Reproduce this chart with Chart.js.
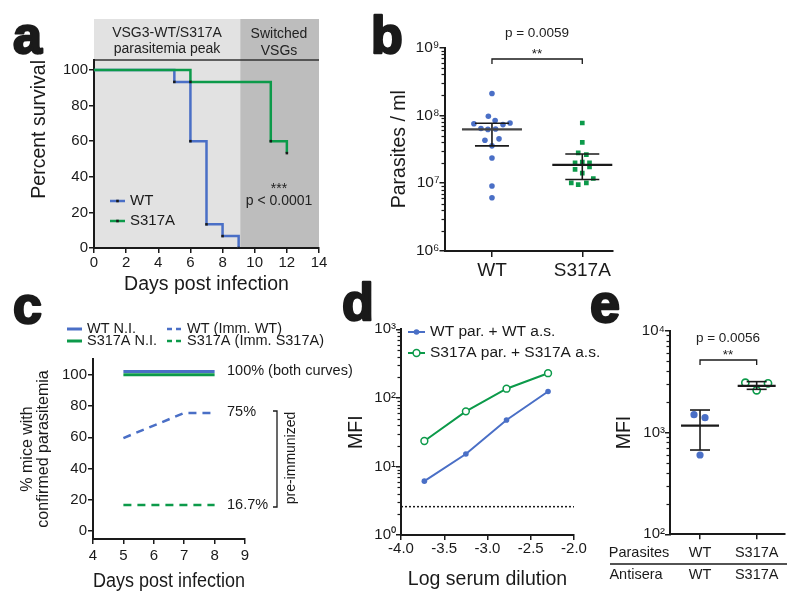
<!DOCTYPE html>
<html>
<head>
<meta charset="utf-8">
<script src="https://cdn.jsdelivr.net/npm/chart.js@4.4.1/dist/chart.umd.min.js"></script>
<style>
body { margin: 0; background: #fff; }
#fig { position: relative; width: 800px; height: 605px; overflow: hidden; }
#fig canvas { position: absolute; }
</style>
</head>
<body>
<div id="fig">
  <canvas id="pa"></canvas>
  <canvas id="pb"></canvas>
  <canvas id="pc"></canvas>
  <canvas id="pd"></canvas>
  <canvas id="pe"></canvas>
</div>
<script>
// ---- data ----
// a: survival
const dayTicksA = [0, 2, 4, 6, 8, 10, 12, 14];
const survivalTicks = [0, 20, 40, 60, 80, 100];
const wtDays = [0, 5, 6, 7, 8, 9];
const wtSurvival = [100, 93.3, 60, 13.3, 6.7, 0];
const s317aDays = [0, 6, 11, 12];
const s317aSurvival = [100, 93.3, 60, 53.3];
const switchDay = 9.1;

// b: parasitemia peak
const groupsB = ['WT', 'S317A'];
const wtParasites = [2.1e8, 9.7e7, 7.5e7, 8.4e7, 7.3e7, 7.7e7, 6.4e7, 6.2e7, 6.3e7, 4.3e7, 4.5e7, 3.55e7, 2.35e7, 9.1e6, 6.1e6];
const s317aParasites = [7.7e7, 4.0e7, 2.8e7, 2.63e7, 2.0e7, 2.05e7, 2.0e7, 1.74e7, 1.6e7, 1.41e7, 1.17e7, 1.01e7, 9.5e6, 1.01e7];
const meanB = [6.2e7, 1.86e7];
const ciLowB = [3.55e7, 1.13e7];
const ciHighB = [7.66e7, 2.69e7];
const decadesB = [6, 7, 8, 9];
// scatter spread of the dots (category units)
const wtSpreadB = [0, -0.04, -0.2, 0.035, 0.122, 0.2, -0.122, -0.045, 0.04, -0.078, 0.078, 0, 0, 0, 0];
const s317aSpreadB = [0, 0, -0.045, 0.045, -0.08, 0, 0.08, 0.08, -0.08, 0, 0.122, -0.122, -0.045, 0.045];

// c: confirmed parasitemia
const dayTicksC = [4, 5, 6, 7, 8, 9];
const percentTicks = [0, 20, 40, 60, 80, 100];
const daysC = [5, 6, 7, 8];
const wtNI = [102, 102, 102, 102];
const s317aNI = [100, 100, 100, 100];
const daysImmWT = [5, 7, 8];
const wtImm = [59.5, 75.5, 75.5];
const s317aImm = [16.7, 16.7, 16.7, 16.7];

// d: titration
const dilutionTicks = [-4.0, -3.5, -3.0, -2.5, -2.0];
const decadesD = [0, 1, 2, 3];
const logDilution = [-3.73, -3.25, -2.78, -2.30];
const mfiWT = [6.1, 15.2, 47.5, 124];
const mfiS317A = [23.5, 63.6, 136, 229];
const mfiBackground = 2.59;

// e: MFI
const parasitesE = ['WT', 'S317A'];
const antiseraE = ['WT', 'S317A'];
const decadesE = [2, 3, 4];
const mfiWTe = [1496, 1397, 601];
const mfiS317Ae = [3083, 2596, 3040];
const meanE = [1166, 2865];
const ciLowE = [673, 2655];
const ciHighE = [1663, 3160];
const wtSpreadE = [-0.106, 0.088, 0];
const s317aSpreadE = [-0.2, 0, 0.2];

// ---- style ----
const FONT = '"Liberation Sans", Arial, Helvetica, sans-serif';
const BLUE = '#4a6fc6';
const GREEN = '#0c9a4a';
const INK = '#1a1a1a';
const SUP = '⁰¹²³⁴⁵⁶⁷⁸⁹';

Chart.defaults.font.family = FONT;
Chart.defaults.color = INK;

const isPow10 = v => Math.abs(Math.log10(v) - Math.round(Math.log10(v))) < 1e-6;
const pow10Label = v => isPow10(v) ? '10' + String(Math.round(Math.log10(v))).split('').map(d => SUP[d]).join('') : '';
const xy = (xs, ys) => ys.map((y, i) => ({x: xs[i], y: y}));

function logTicks(decades) {
    const t = [];
    for (let i = 0; i < decades.length - 1; i++) {
        for (let k = 1; k < 10; k++) t.push(k * Math.pow(10, decades[i]));
    }
    t.push(Math.pow(10, decades[decades.length - 1]));
    return t;
}

// place a canvas and work out padding so the plot area lands where wanted
function frame(id, box, area) {
    const cv = document.getElementById(id);
    cv.width = box.w;
    cv.height = box.h;
    cv.style.left = box.x + 'px';
    cv.style.top = box.y + 'px';
    return {
        cv, box,
        padding: {left: 0, bottom: 0, top: area.top - box.y, right: box.x + box.w - area.right},
        yWidth: area.left - box.x,
        xHeight: box.y + box.h - area.bottom
    };
}

function axis(F, o) {
    const horiz = o.pos === 'x';
    const s = {
        type: o.type || 'linear',
        min: o.min,
        max: o.max,
        border: {color: INK, width: 2},
        grid: {drawOnChartArea: false, color: INK, lineWidth: 1.5, tickLength: o.tickLen || 5},
        ticks: {font: {size: o.tickSize || 15}, color: INK, padding: o.tickPad === undefined ? 2 : o.tickPad, autoSkip: false, maxRotation: 0},
        afterBuildTicks: ax => { ax.ticks = o.ticks.map(v => ({value: v})); },
        afterFit: horiz ? (sc => { sc.height = F.xHeight; }) : (sc => { sc.width = F.yWidth; })
    };
    if (o.label) s.ticks.callback = o.label;
    if (s.type === 'logarithmic') {
        s.ticks.callback = pow10Label;
        s.grid.tickWidth = c => (c.tick && isPow10(c.tick.value)) ? 1.5 : 0;
    }
    if (o.title) {
        const size = o.titleSize || 19.5;
        const lh = o.titleLH || 1.2;
        s.title = {
            display: true, text: o.title, color: INK, align: o.titleAlign || 'center',
            font: {size: size, lineHeight: lh},
            padding: horiz
                ? {top: 0, bottom: F.box.y + F.box.h - o.titleAt - size * lh / 2}
                : {top: o.titleAt - F.box.x - size * lh / 2, bottom: 0}
        };
    }
    return s;
}

function base(F, scales) {
    return {
        responsive: false,
        animation: false,
        events: [],
        layout: {padding: F.padding},
        plugins: {legend: {display: false}, tooltip: {enabled: false}},
        scales: scales
    };
}

// extra marks: letters, notes, brackets, mean/CI bars, legends, minor log ticks
function decor(F, cfg) {
    const B = F.box;
    const px = x => x - B.x;
    const py = y => y - B.y;
    function text(ctx, t) {
        ctx.save();
        ctx.font = (t.bold ? 'bold ' : '') + t.size + 'px ' + FONT;
        ctx.fillStyle = t.color || INK;
        ctx.textAlign = t.align || 'center';
        ctx.textBaseline = t.base || 'middle';
        ctx.translate(px(t.x), py(t.y));
        if (t.rot) ctx.rotate(t.rot);
        ctx.fillText(t.t, 0, 0);
        if (t.stroke) {
            ctx.lineWidth = t.stroke;
            ctx.lineJoin = 'round';
            ctx.strokeStyle = t.color || INK;
            ctx.strokeText(t.t, 0, 0);
        }
        ctx.restore();
    }
    function poly(ctx, pts, w, color) {
        ctx.save();
        ctx.strokeStyle = color || INK;
        ctx.lineWidth = w;
        ctx.beginPath();
        pts.forEach((p, i) => i ? ctx.lineTo(p[0], p[1]) : ctx.moveTo(p[0], p[1]));
        ctx.stroke();
        ctx.restore();
    }
    return {
        id: 'decor',
        beforeDraw(chart) {
            const {ctx, chartArea: a} = chart;
            const xs = chart.scales.x;
            (cfg.bands || []).forEach(b => {
                const x0 = xs.getPixelForValue(b.from);
                const x1 = xs.getPixelForValue(b.to);
                ctx.fillStyle = b.color;
                ctx.fillRect(x0, py(cfg.bandTop), x1 - x0, a.bottom - py(cfg.bandTop));
            });
            if (cfg.headerLine) {
                poly(ctx, [[xs.left, a.top], [xs.right, a.top]], 1.5, '#333');
            }
        },
        afterDatasetsDraw(chart) {
            const ctx = chart.ctx;
            const xs = chart.scales.x, ys = chart.scales.y;
            (cfg.errorBars || []).forEach(e => {
                const cx = xs.getPixelForValue(e.x);
                const ym = ys.getPixelForValue(e.mean);
                const yl = ys.getPixelForValue(e.lo);
                const yh = ys.getPixelForValue(e.hi);
                poly(ctx, [[cx, yl], [cx, yh]], 1.6);
                poly(ctx, [[cx - e.cap, yl], [cx + e.cap, yl]], 1.6);
                poly(ctx, [[cx - e.cap, yh], [cx + e.cap, yh]], 1.6);
                poly(ctx, [[cx - e.half, ym], [cx + e.half, ym]], 2.2, e.color || INK);
            });
        },
        afterDraw(chart) {
            const {ctx, chartArea: a} = chart;
            const xs = chart.scales.x, ys = chart.scales.y;
            if (cfg.minorTicks) {
                ys.ticks.forEach(t => {
                    if (isPow10(t.value)) return;
                    const yy = Math.round(ys.getPixelForValue(t.value)) + 0.5;
                    poly(ctx, [[a.left - 3.5, yy], [a.left, yy]], 1.2);
                });
            }
            (cfg.brackets || []).forEach(b => {
                const x0 = xs.getPixelForValue(b.x0), x1 = xs.getPixelForValue(b.x1), y = py(b.y);
                poly(ctx, [[x0, y + b.drop], [x0, y], [x1, y], [x1, y + b.drop]], 1.3);
            });
            (cfg.lines || []).forEach(l => poly(ctx, l.pts.map(p => [px(p[0]), py(p[1])]), l.w || 1.3));
            if (cfg.rowLabels) {
                const r = cfg.rowLabels;
                r.labels.forEach((lab, i) => text(ctx, {t: lab, x: xs.getPixelForValue(i) + B.x, y: r.y, size: r.size}));
            }
            (cfg.legend || []).forEach(it => {
                const d = chart.data.datasets[it.ds];
                const x0 = px(it.x), y0 = py(it.y);
                ctx.save();
                ctx.strokeStyle = d.borderColor;
                ctx.lineWidth = d.borderWidth;
                ctx.setLineDash(it.dash || []);
                ctx.beginPath();
                ctx.moveTo(x0, y0);
                ctx.lineTo(x0 + it.len, y0);
                ctx.stroke();
                ctx.setLineDash([]);
                const mx = x0 + it.len / 2;
                if (it.marker === 'rect') {
                    ctx.fillStyle = INK;
                    ctx.fillRect(mx - 1.3, y0 - 1.3, 2.6, 2.6);
                } else if (it.marker === 'dot' || it.marker === 'ring') {
                    ctx.beginPath();
                    ctx.arc(mx, y0, it.marker === 'dot' ? 2.8 : 3.4, 0, Math.PI * 2);
                    ctx.fillStyle = it.marker === 'dot' ? d.borderColor : '#fff';
                    ctx.fill();
                    if (it.marker === 'ring') { ctx.lineWidth = 1.5; ctx.stroke(); }
                }
                ctx.restore();
                text(ctx, {t: it.label, x: it.x + it.len + 5, y: it.y, size: it.size, align: 'left'});
            });
            (cfg.texts || []).forEach(t => text(ctx, t));
            if (cfg.letter) {
                text(ctx, Object.assign({bold: true, size: 52, align: 'left', base: 'alphabetic', stroke: 2.4}, cfg.letter));
            }
        }
    };
}

// ---- a ----
const FA = frame('pa', {x: 0, y: 0, w: 335, h: 300}, {left: 94, top: 60, right: 319, bottom: 248});
new Chart(FA.cv, {
    type: 'line',
    data: {
        datasets: [
            {label: 'WT', order: 1, data: xy(wtDays, wtSurvival), borderColor: BLUE, borderWidth: 2.5, stepped: true,
             pointStyle: 'rect', pointRadius: c => c.dataIndex === 0 ? 0 : 1.8, pointBackgroundColor: INK, pointBorderWidth: 0},
            {label: 'S317A', order: 0, data: xy(s317aDays, s317aSurvival), borderColor: GREEN, borderWidth: 2.5, stepped: true,
             pointStyle: 'rect', pointRadius: c => c.dataIndex === 0 ? 0 : 1.8, pointBackgroundColor: INK, pointBorderWidth: 0}
        ]
    },
    options: base(FA, {
        x: axis(FA, {pos: 'x', min: dayTicksA[0], max: dayTicksA[dayTicksA.length - 1], ticks: dayTicksA, tickPad: 1,
                     title: 'Days post infection', titleAt: 285}),
        y: axis(FA, {pos: 'y', min: 0, max: 105.6, ticks: survivalTicks, tickPad: 1,
                     title: 'Percent survival', titleAt: 40, titleAlign: 'end'})
    }),
    plugins: [decor(FA, {
        letter: {t: 'a', x: 13, y: 53},
        bands: [
            {from: dayTicksA[0], to: switchDay, color: '#e2e2e2'},
            {from: switchDay, to: dayTicksA[dayTicksA.length - 1], color: '#bdbdbd'}
        ],
        bandTop: 19,
        headerLine: true,
        texts: [
            {t: 'VSG3-WT/S317A', x: 167, y: 33, size: 14, color: '#222'},
            {t: 'parasitemia peak', x: 167, y: 49, size: 14, color: '#222'},
            {t: 'Switched', x: 279, y: 34, size: 14, color: '#222'},
            {t: 'VSGs', x: 279, y: 51, size: 14, color: '#222'},
            {t: '***', x: 279, y: 189, size: 14, color: '#222'},
            {t: 'p < 0.0001', x: 279, y: 201, size: 14, color: '#222'}
        ],
        legend: [
            {ds: 0, x: 110, y: 201, len: 15, label: 'WT', size: 15, marker: 'rect'},
            {ds: 1, x: 110, y: 221, len: 15, label: 'S317A', size: 15, marker: 'rect'}
        ]
    })]
});

// ---- b ----
const FB = frame('pb', {x: 335, y: 0, w: 290, h: 300}, {left: 445, top: 47.5, right: 613, bottom: 251});
new Chart(FB.cv, {
    type: 'scatter',
    data: {
        datasets: [
            {label: 'WT', data: wtParasites.map((v, i) => ({x: 0 + wtSpreadB[i], y: v})),
             pointStyle: 'circle', pointRadius: 2.8, pointBackgroundColor: BLUE, pointBorderWidth: 0},
            {label: 'S317A', data: s317aParasites.map((v, i) => ({x: 1 + s317aSpreadB[i], y: v})),
             pointStyle: 'rect', pointRadius: 3.3, pointBackgroundColor: GREEN, pointBorderWidth: 0}
        ]
    },
    options: base(FB, {
        x: axis(FB, {pos: 'x', min: -0.52, max: 1.34, ticks: [0, 1], tickLen: 6, tickPad: 2, tickSize: 19,
                     label: v => groupsB[v]}),
        y: axis(FB, {pos: 'y', type: 'logarithmic', min: 1e6, max: 1e9, ticks: logTicks(decadesB), tickLen: 5.5, tickPad: 0,
                     tickSize: 15.5, title: 'Parasites / ml', titleAt: 400})
    }),
    plugins: [decor(FB, {
        letter: {t: 'b', x: 371, y: 53},
        minorTicks: true,
        errorBars: groupsB.map((g, i) => ({x: i, mean: meanB[i], lo: ciLowB[i], hi: ciHighB[i], half: 30, cap: 17, color: i ? INK : '#444'})),
        brackets: [{x0: 0, x1: 1, y: 59, drop: 5}],
        texts: [
            {t: 'p = 0.0059', x: 537, y: 33, size: 13.5, color: '#222'},
            {t: '**', x: 537, y: 54, size: 13.5, color: '#222'}
        ]
    })]
});

// ---- c ----
const FC = frame('pc', {x: 0, y: 290, w: 360, h: 315}, {left: 93, top: 359, right: 245, bottom: 539});
new Chart(FC.cv, {
    type: 'line',
    data: {
        datasets: [
            {label: 'WT N.I.', data: xy(daysC, wtNI), borderColor: BLUE, borderWidth: 3, pointRadius: 0},
            {label: 'S317A N.I.', data: xy(daysC, s317aNI), borderColor: GREEN, borderWidth: 3, pointRadius: 0},
            {label: 'WT (Imm. WT)', data: xy(daysImmWT, wtImm), borderColor: BLUE, borderWidth: 2.5, borderDash: [8, 6], pointRadius: 0},
            {label: 'S317A (Imm. S317A)', data: xy(daysC, s317aImm), borderColor: GREEN, borderWidth: 2.5, borderDash: [8, 6], pointRadius: 0}
        ]
    },
    options: base(FC, {
        x: axis(FC, {pos: 'x', min: dayTicksC[0], max: dayTicksC[dayTicksC.length - 1], ticks: dayTicksC, tickPad: 3,
                     title: 'Days post infection', titleAt: 582}),
        y: axis(FC, {pos: 'y', min: -5, max: 110, ticks: percentTicks, tickPad: 1,
                     title: ['% mice with', 'confirmed parasitemia'], titleSize: 16, titleLH: 1.0, titleAt: 28})
    }),
    plugins: [decor(FC, {
        letter: {t: 'c', x: 13, y: 323},
        legend: [
            {ds: 0, x: 67, y: 329, len: 15, label: 'WT N.I.', size: 14.5},
            {ds: 1, x: 67, y: 341, len: 15, label: 'S317A N.I.', size: 14.5},
            {ds: 2, x: 167, y: 329, len: 15, label: 'WT (Imm. WT)', size: 14.5, dash: [5, 4]},
            {ds: 3, x: 167, y: 341, len: 15, label: 'S317A (Imm. S317A)', size: 14.5, dash: [5, 4]}
        ],
        texts: [
            {t: '100% (both curves)', x: 227, y: 371, size: 14.5, align: 'left'},
            {t: '75%', x: 227, y: 412, size: 14.5, align: 'left'},
            {t: '16.7%', x: 227, y: 505, size: 14.5, align: 'left'},
            {t: 'pre-immunized', x: 291, y: 458, size: 14, rot: -Math.PI / 2}
        ],
        lines: [{pts: [[273, 411], [277, 411], [277, 507], [273, 507]], w: 1.3}]
    })]
});

// ---- d ----
const FD = frame('pd', {x: 330, y: 270, w: 270, h: 335}, {left: 401, top: 329.3, right: 574, bottom: 535});
new Chart(FD.cv, {
    type: 'line',
    data: {
        datasets: [
            {label: 'WT par. + WT a.s.', data: xy(logDilution, mfiWT), borderColor: BLUE, borderWidth: 2,
             pointRadius: 2.8, pointBackgroundColor: BLUE, pointBorderWidth: 0},
            {label: 'S317A par. + S317A a.s.', data: xy(logDilution, mfiS317A), borderColor: GREEN, borderWidth: 2,
             pointRadius: 3.4, pointBackgroundColor: '#fff', pointBorderColor: GREEN, pointBorderWidth: 1.5},
            {label: 'background', data: xy([dilutionTicks[0], dilutionTicks[dilutionTicks.length - 1]], [mfiBackground, mfiBackground]),
             borderColor: INK, borderWidth: 1.5, borderDash: [2, 2], pointRadius: 0}
        ]
    },
    options: base(FD, {
        x: axis(FD, {pos: 'x', min: dilutionTicks[0], max: dilutionTicks[dilutionTicks.length - 1], ticks: dilutionTicks, tickPad: 0,
                     label: v => v.toFixed(1), title: 'Log serum dilution', titleAt: 580}),
        y: axis(FD, {pos: 'y', type: 'logarithmic', min: 1, max: 1000, ticks: logTicks(decadesD), tickLen: 5, tickPad: 0,
                     tickSize: 15, title: 'MFI', titleAt: 357})
    }),
    plugins: [decor(FD, {
        letter: {t: 'd', x: 342, y: 320},
        minorTicks: true,
        legend: [
            {ds: 0, x: 408, y: 332, len: 17, label: 'WT par. + WT a.s.', size: 15.5, marker: 'dot'},
            {ds: 1, x: 408, y: 353, len: 17, label: 'S317A par. + S317A a.s.', size: 15.5, marker: 'ring'}
        ]
    })]
});

// ---- e ----
const FE = frame('pe', {x: 585, y: 280, w: 215, h: 325}, {left: 670, top: 330.7, right: 785, bottom: 534.3});
new Chart(FE.cv, {
    type: 'scatter',
    data: {
        datasets: [
            {label: 'WT', data: mfiWTe.map((v, i) => ({x: 0 + wtSpreadE[i], y: v})),
             pointStyle: 'circle', pointRadius: 3.6, pointBackgroundColor: BLUE, pointBorderWidth: 0},
            {label: 'S317A', data: mfiS317Ae.map((v, i) => ({x: 1 + s317aSpreadE[i], y: v})),
             pointStyle: 'circle', pointRadius: 3.6, pointBackgroundColor: '#fff', pointBorderColor: GREEN, pointBorderWidth: 1.6}
        ]
    },
    options: base(FE, {
        x: axis(FE, {pos: 'x', min: -0.53, max: 1.5, ticks: [0, 1], tickLen: 5, tickPad: 5, tickSize: 14.5,
                     label: v => parasitesE[v]}),
        y: axis(FE, {pos: 'y', type: 'logarithmic', min: 100, max: 10000, ticks: logTicks(decadesE), tickLen: 5, tickPad: 0,
                     tickSize: 15, title: 'MFI', titleAt: 625})
    }),
    plugins: [decor(FE, {
        letter: {t: 'e', x: 590, y: 322, size: 54},
        minorTicks: true,
        errorBars: parasitesE.map((g, i) => ({x: i, mean: meanE[i], lo: ciLowE[i], hi: ciHighE[i], half: 19, cap: 10})),
        brackets: [{x0: 0, x1: 1, y: 360, drop: 5}],
        rowLabels: {labels: antiseraE, y: 575, size: 14.5},
        lines: [{pts: [[610, 564], [787, 564]], w: 1.5}],
        texts: [
            {t: 'p = 0.0056', x: 728, y: 338, size: 13.5, color: '#222'},
            {t: '**', x: 728, y: 355, size: 13.5, color: '#222'},
            {t: 'Parasites', x: 639, y: 553, size: 14.5},
            {t: 'Antisera', x: 636, y: 575, size: 14.5}
        ]
    })]
});
</script>
</body>
</html>
